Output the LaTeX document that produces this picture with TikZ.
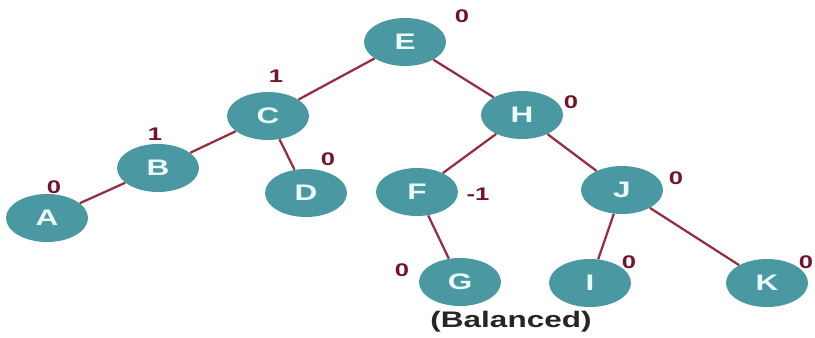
\documentclass[tikz,border=0pt]{standalone}
\usepackage{fontspec}
\setmainfont{Liberation Sans}
\newfontfamily\widesans[FakeStretch=1.4]{Liberation Sans}
\usepackage{tikz}
\usetikzlibrary{positioning,shapes.geometric}
\definecolor{nodeteal}{RGB}{74,152,162}
\definecolor{edgered}{RGB}{150,45,65}
\definecolor{balred}{RGB}{115,20,40}
\definecolor{lettercol}{RGB}{235,250,250}

\begin{document}
\begin{tikzpicture}[
  x=0.025cm, y=-0.025cm,
  avl/.style={ellipse,fill=nodeteal,minimum width=2.05cm,minimum height=1.2cm,
              inner sep=0pt,text=lettercol,font=\widesans\fontsize{16}{16}\selectfont\bfseries},
  bal/.style={text=balred,font=\widesans\fontsize{13}{13}\selectfont\bfseries,inner sep=0pt},
  edge/.style={draw=edgered,line width=1.6pt},
  ]
  \useasboundingbox (0,0) rectangle (815,337);

  %─── Nodes ──────────────────────────────────────────────────────────────────
  \node[avl] (E) at (405,42)  {E};
  \node[avl] (C) at (268,116) {C};
  \node[avl] (H) at (522,115) {H};
  \node[avl] (B) at (158,168) {B};
  \node[avl] (D) at (306,193) {D};
  \node[avl] (F) at (417,192) {F};
  \node[avl] (J) at (622,190) {J};
  \node[avl] (A) at (47,218)  {A};
  \node[avl] (G) at (460,282) {G};
  \node[avl] (I) at (590,283) {I};
  \node[avl] (K) at (767,283) {K};

  %─── Edges ──────────────────────────────────────────────────────────────────
  \draw[edge] (E) -- (C);
  \draw[edge] (E) -- (H);
  \draw[edge] (C) -- (B);
  \draw[edge] (C) -- (D);
  \draw[edge] (B) -- (A);
  \draw[edge] (H) -- (F);
  \draw[edge] (H) -- (J);
  \draw[edge] (F) -- (G);
  \draw[edge] (J) -- (I);
  \draw[edge] (J) -- (K);

  %─── Balance factors ────────────────────────────────────────────────────────
  \node[bal] (balE) at (462,16)  {0};
  \node[bal] (balC) at (276,76)  {1};
  \node[bal] (balH) at (571,102) {0};
  \node[bal] (balB) at (155,134) {1};
  \node[bal] (balD) at (328,159) {0};
  \node[bal] (balF) at (478,194) {-1};
  \node[bal] (balJ) at (676,178) {0};
  \node[bal] (balA) at (54,187)  {0};
  \node[bal] (balG) at (402,270) {0};
  \node[bal] (balI) at (629,262) {0};
  \node[bal] (balK) at (806,262) {0};

  %─── Caption ────────────────────────────────────────────────────────────────
  \node[font=\widesans\fontsize{16}{16}\selectfont\bfseries,text=black!85] (caption)
    at (511,322) {(Balanced)};

\end{tikzpicture}
\end{document}
